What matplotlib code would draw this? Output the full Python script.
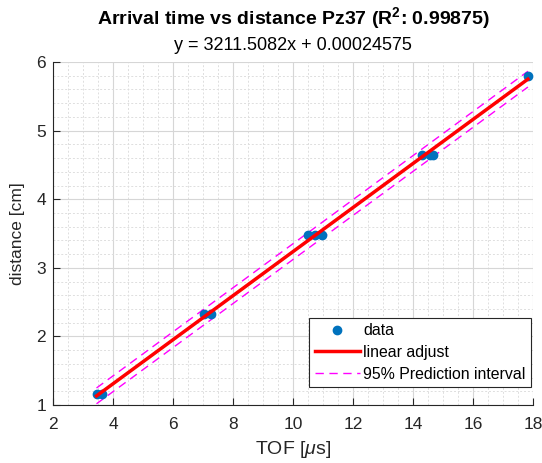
import matplotlib
matplotlib.use("Agg")
import matplotlib.pyplot as plt
import numpy as np
from matplotlib.ticker import MultipleLocator

plt.rcParams['font.family'] = ['Liberation Sans', 'DejaVu Sans']
plt.rcParams['mathtext.fontset'] = 'custom'
plt.rcParams['mathtext.rm'] = 'Liberation Sans'
plt.rcParams['mathtext.it'] = 'Liberation Sans:italic'
plt.rcParams['mathtext.bf'] = 'Liberation Sans:bold'

# data (TOF in microseconds, distance in cm)
tof_us = [3.45, 3.62, 7.03, 7.25, 10.5, 10.72, 10.95, 14.3, 14.55, 14.67, 17.83]
dist_cm = [1.16, 1.16, 2.32, 2.32, 3.48, 3.48, 3.48, 4.64, 4.64, 4.64, 5.80]

# fit: y[m] = 3211.5082 x[s] + 0.00024575  -> y[cm] = 0.32115082 x[us] + 0.024575
slope_cm_per_us = 0.32115082
intercept_cm = 0.024575
pred_halfwidth = 0.115  # cm, 95% prediction interval half-width

blue = '#0072BD'

fig = plt.figure(figsize=(5.42, 4.63), dpi=100)
ax = fig.add_axes([0.0978, 0.1253, 0.8856, 0.7407])

xfit = np.array([min(tof_us), max(tof_us)])
yfit = slope_cm_per_us * xfit + intercept_cm

ax.plot(tof_us, dist_cm, 'o', color=blue, markersize=6, label='data', zorder=3)
ax.plot(xfit, yfit, '-', color='#FF0000', linewidth=2.5, label='linear adjust', zorder=4)
ax.plot(xfit, yfit + pred_halfwidth, '--', color='#FF00FF', linewidth=1,
        dashes=(6, 4), label='95% Prediction interval', zorder=2)
ax.plot(xfit, yfit - pred_halfwidth, '--', color='#FF00FF', linewidth=1,
        dashes=(6, 4), zorder=2)

ax.set_xlim(2, 18)
ax.set_ylim(1, 6)
ax.xaxis.set_major_locator(MultipleLocator(2))
ax.xaxis.set_minor_locator(MultipleLocator(0.5))
ax.yaxis.set_major_locator(MultipleLocator(1))
ax.yaxis.set_minor_locator(MultipleLocator(0.2))

ax.grid(True, which='major', color='#d6d6d6', linewidth=0.8, linestyle='-')
ax.grid(True, which='minor', color='#dedede', linewidth=0.7, linestyle=(0, (2, 2)))
ax.set_axisbelow(True)

for s in ['top', 'right']:
    ax.spines[s].set_visible(False)
for s in ['left', 'bottom']:
    ax.spines[s].set_color('#262626')
    ax.spines[s].set_linewidth(0.8)

ax.tick_params(which='major', direction='in', length=5, width=0.8, colors='#262626',
               labelsize=12.5)
ax.tick_params(axis='x', which='major', pad=9)
ax.tick_params(axis='y', which='major', pad=5)
ax.tick_params(which='minor', length=0)

ax.set_xlabel(r'TOF [$\mathit{\mu}$s]', fontsize=14, color='#262626', labelpad=5)
ax.set_ylabel('distance [cm]', fontsize=12.5, color='#262626', labelpad=8)

cx = 0.0978 + 0.8856 / 2
fig.text(cx, 0.960, r'Arrival time vs distance Pz37 (R$^\mathbf{2}$: 0.99875)',
         ha='center', va='center', fontsize=14, fontweight='bold', color='black')
fig.text(cx, 0.902, 'y = 3211.5082x + 0.00024575', ha='center', va='center',
         fontsize=13, color='black')

leg = ax.legend(loc='lower right', bbox_to_anchor=(0.996, 0.052), fontsize=11.4,
                frameon=True, fancybox=False,
                edgecolor='#262626', framealpha=1, borderpad=0.35, labelspacing=0.42,
                handlelength=2.85, handletextpad=0.2, borderaxespad=0.0)
leg.get_frame().set_linewidth(0.8)

fig.savefig('out.png', dpi=100)
